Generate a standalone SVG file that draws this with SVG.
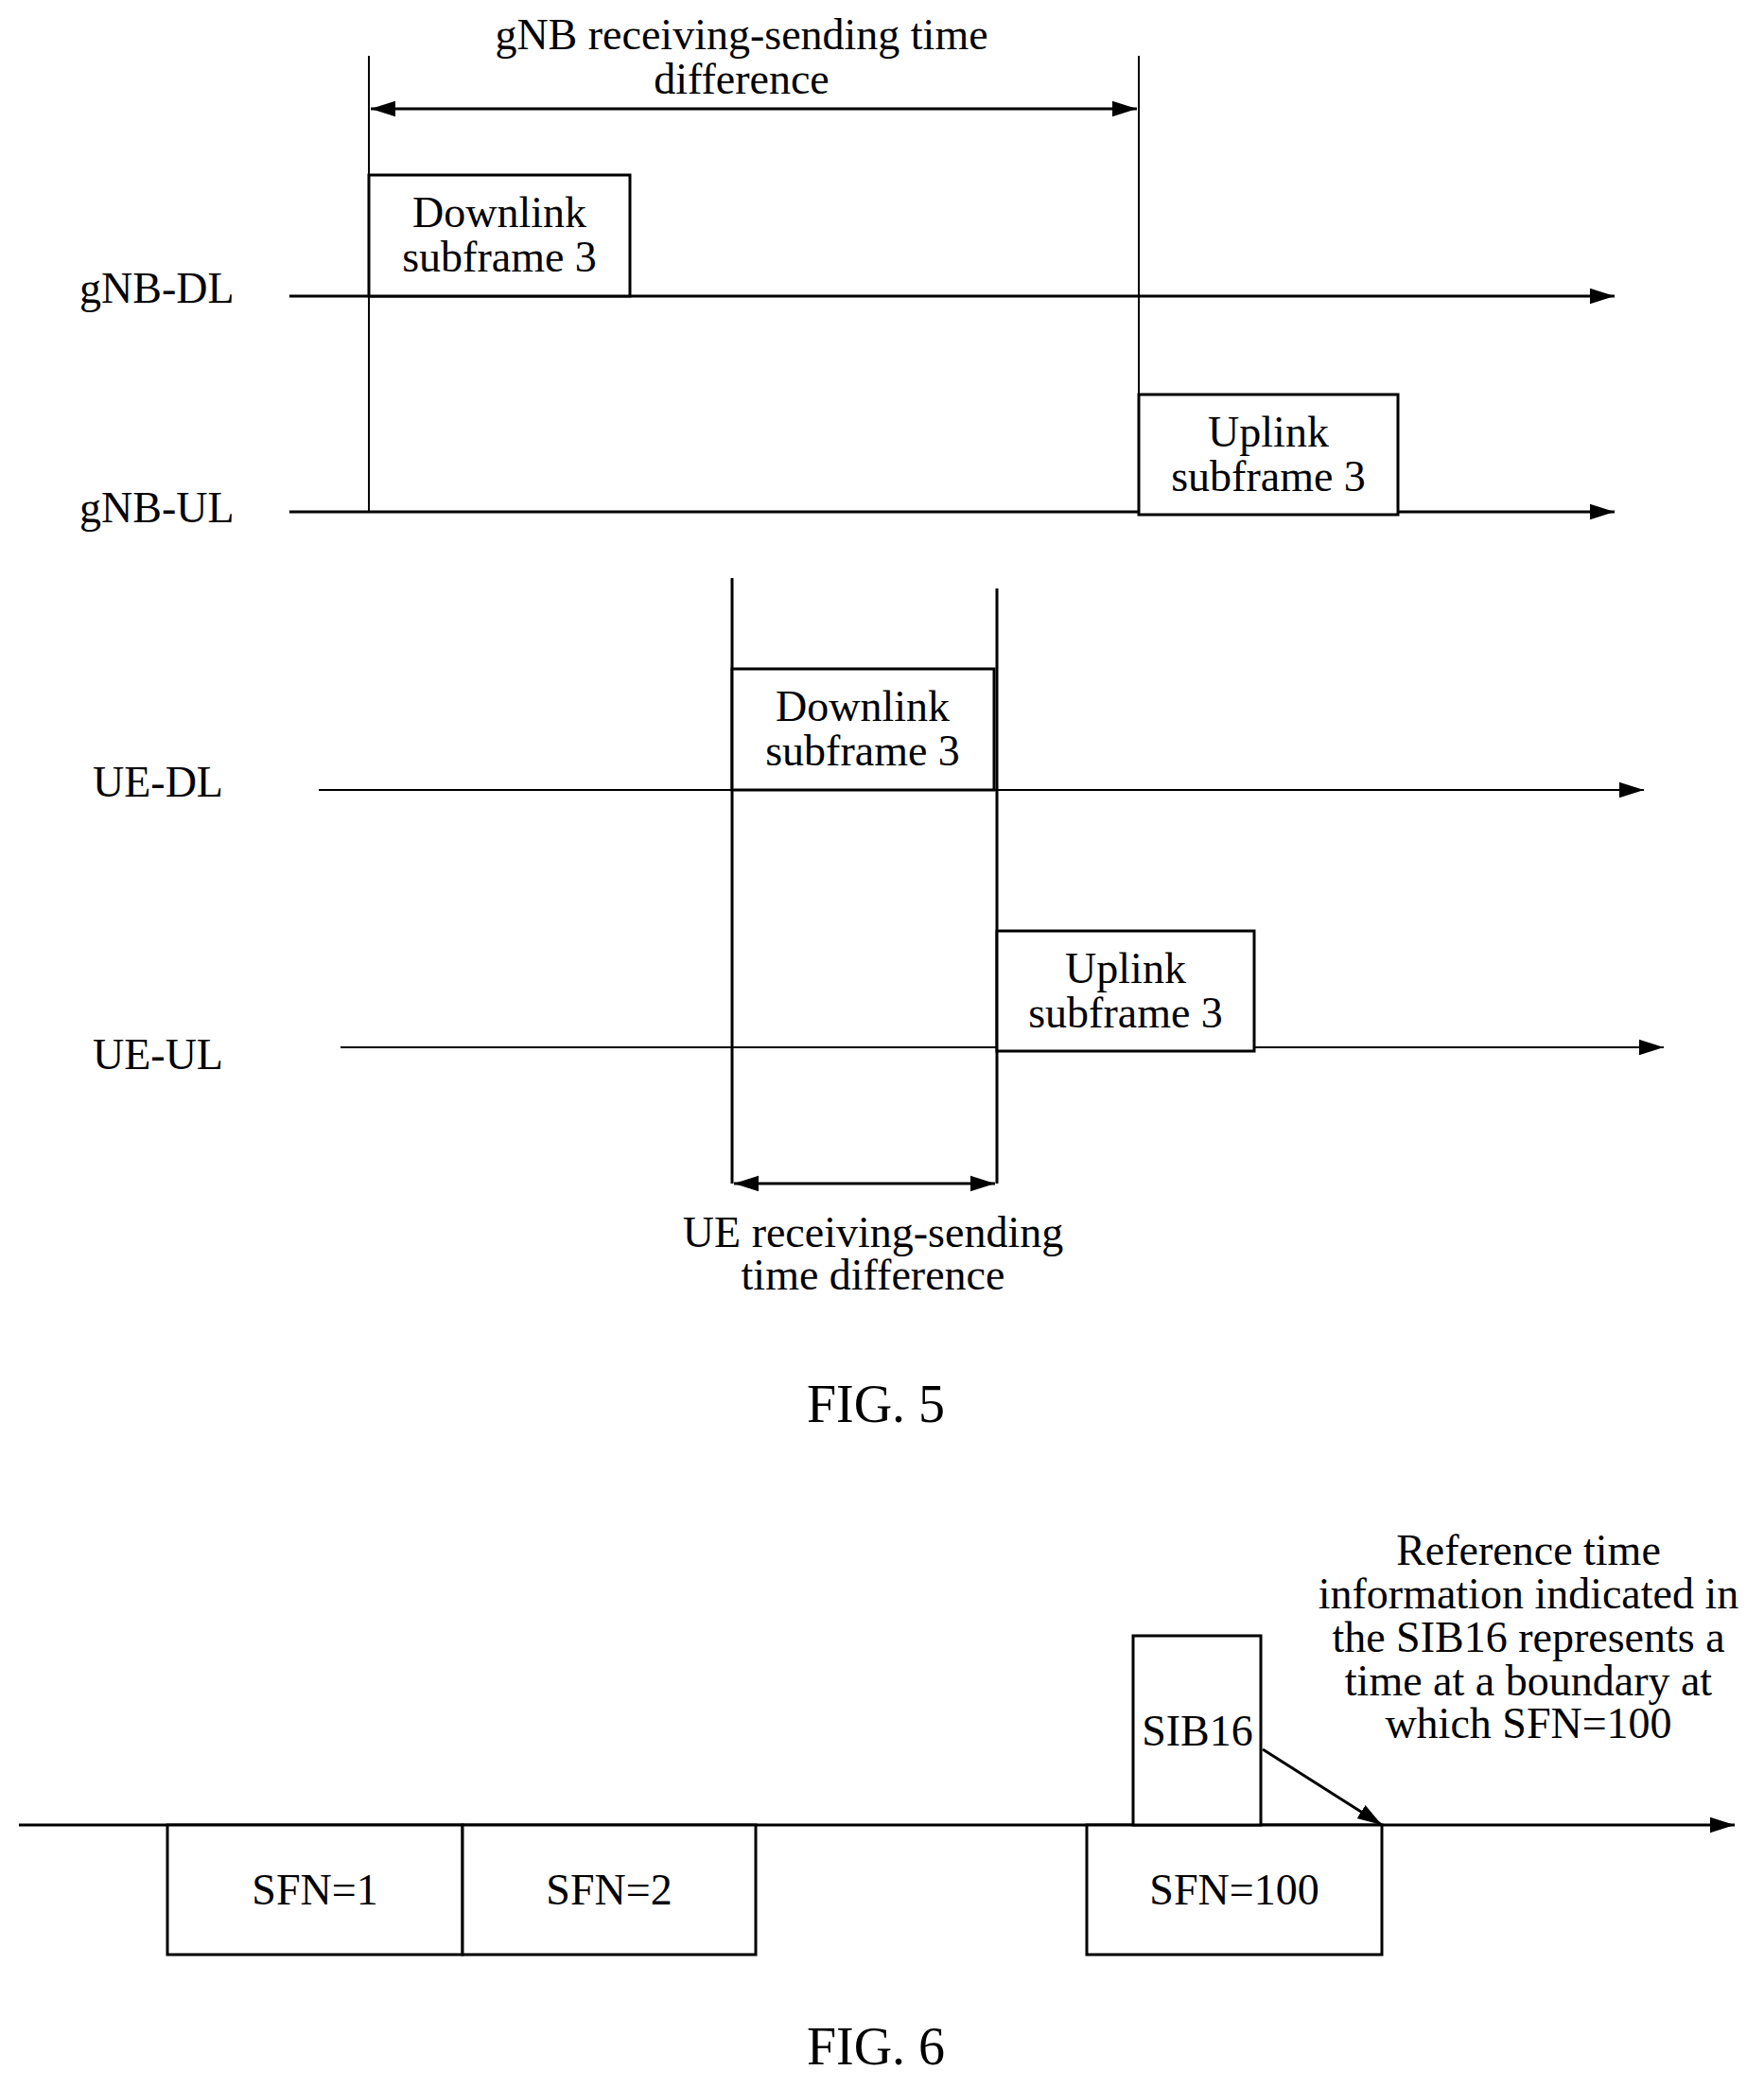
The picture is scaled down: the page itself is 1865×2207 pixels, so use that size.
<svg xmlns="http://www.w3.org/2000/svg" width="1865" height="2207" viewBox="0 0 1865 2207">
<style>
text{font-family:"Liberation Serif","Times New Roman",serif;font-size:46px;fill:#000;text-anchor:middle}
.l{text-anchor:start}
.ln{stroke:#000;stroke-width:3;fill:none}
.th{stroke:#000;stroke-width:2;fill:none}
.bx{stroke:#000;stroke-width:3;fill:#fff}
</style>
<defs>
<marker id="b" viewBox="0 0 10 10" refX="10" refY="5" markerWidth="26" markerHeight="26" orient="auto-start-reverse" markerUnits="userSpaceOnUse"><path d="M0,1.8L10,5L0,8.2z"/></marker>
</defs>
<g id="connectors">
<line class="th" x1="390" y1="59" x2="390" y2="541"/>
<line class="th" x1="1204" y1="59" x2="1204" y2="417"/>
<line class="ln" x1="392" y1="115" x2="1202" y2="115" marker-start="url(#b)" marker-end="url(#b)"/>
<line class="ln" x1="306" y1="313" x2="1707" y2="313" marker-end="url(#b)"/>
<line class="ln" x1="306" y1="541" x2="1707" y2="541" marker-end="url(#b)"/>
<line class="ln" x1="774" y1="611" x2="774" y2="1251"/>
<line class="ln" x1="1054" y1="622" x2="1054" y2="1251"/>
<line class="th" x1="337" y1="835" x2="1738" y2="835" marker-end="url(#b)"/>
<line class="th" x1="360" y1="1107" x2="1759" y2="1107" marker-end="url(#b)"/>
<line class="ln" x1="776" y1="1251" x2="1052" y2="1251" marker-start="url(#b)" marker-end="url(#b)"/>
<line class="ln" x1="20" y1="1929" x2="1834" y2="1929" marker-end="url(#b)"/>
<line class="ln" x1="1335" y1="1849" x2="1461" y2="1929" marker-end="url(#b)"/>
</g>
<g id="labels">
<text x="784" y="52">gNB receiving-sending time</text>
<text x="784" y="99">difference</text>
<text class="l" x="84" y="320">gNB-DL</text>
<text class="l" x="84" y="552">gNB-UL</text>
<text class="l" x="98" y="842">UE-DL</text>
<text class="l" x="98" y="1130">UE-UL</text>
<text x="923" y="1318">UE receiving-sending</text>
<text x="923" y="1363">time difference</text>
<text x="926" y="1503" style="font-size:56px">FIG. 5</text>
<text x="926" y="2182" style="font-size:56px">FIG. 6</text>
<text x="1616" y="1654">Reference time</text>
<text x="1616" y="1700">information indicated in</text>
<text x="1616" y="1746">the SIB16 represents a</text>
<text x="1616" y="1792">time at a boundary at</text>
<text x="1616" y="1837">which SFN=100</text>
</g>
<g id="dl-gnb"><rect class="bx" x="390" y="185" width="276" height="128"/><text x="528" y="240">Downlink</text><text x="528" y="287">subframe 3</text></g>
<g id="ul-gnb"><rect class="bx" x="1204" y="417" width="274" height="127"/><text x="1341" y="472">Uplink</text><text x="1341" y="519">subframe 3</text></g>
<g id="dl-ue"><rect class="bx" x="774" y="707" width="277" height="128"/><text x="912" y="762">Downlink</text><text x="912" y="809">subframe 3</text></g>
<g id="ul-ue"><rect class="bx" x="1054" y="984" width="272" height="127"/><text x="1190" y="1039">Uplink</text><text x="1190" y="1086">subframe 3</text></g>
<g id="sfn1"><rect class="bx" x="177" y="1929" width="312" height="137"/><text x="333" y="2013">SFN=1</text></g>
<g id="sfn2"><rect class="bx" x="489" y="1929" width="310" height="137"/><text x="644" y="2013">SFN=2</text></g>
<g id="sfn100"><rect class="bx" x="1149" y="1929" width="312" height="137"/><text x="1305" y="2013">SFN=100</text></g>
<g id="sib16"><rect class="bx" x="1198" y="1729" width="135" height="200"/><text x="1266" y="1845">SIB16</text></g>
</svg>
